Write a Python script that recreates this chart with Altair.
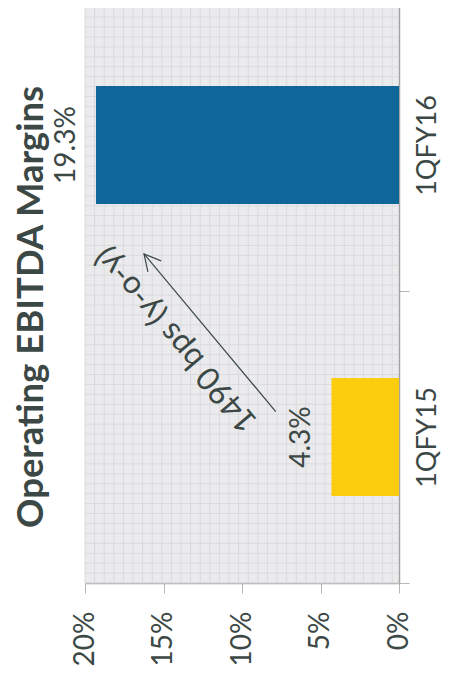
import altair as alt
import pandas as pd

# ---- data ----
quarters = ["1QFY16", "1QFY15"]
margins = [19.3, 4.3]
margin_labels = ["19.3%", "4.3%"]
bar_colors = ["#0f6699", "#fccc0f"]

value_ticks = [0, 5, 10, 15, 20]
chart_title = "Operating EBITDA Margins"

# annotation arrow: x in % margin, y in band units counted from the bottom (0..2)
arrow_x = [7.85, 16.24]
arrow_y = [0.587, 1.127]
arrow_text = ["1490 bps (y-o-y)"]
arrow_text_x = [14.2]
arrow_text_y = [0.834]

# background grid pattern (decoration): vertical lines in % units, horizontal in band units
grid_v_pos = [20 - k * 0.6115 for k in range(33)]
grid_h_pos = [k * 0.034 for k in range(59)]

TEXT = "#3b4845"
AXIS = "#a3a3a3"
GRID = "#dadbdd"
FONT = "Lato"

df = pd.DataFrame({"quarter": quarters, "margin": margins,
                   "label": margin_labels, "color": bar_colors})
df_arrow = pd.DataFrame({"margin": arrow_x, "ay": arrow_y})
df_tip = pd.DataFrame({"margin": [arrow_x[1]], "ay": [arrow_y[1]]})
df_note = pd.DataFrame({"margin": arrow_text_x, "ay": arrow_text_y, "t": arrow_text})
df_gv = pd.DataFrame({"margin": grid_v_pos})
df_gh = pd.DataFrame({"gy": grid_h_pos})

xscale = alt.Scale(domain=[0, 20], reverse=True, nice=False, zero=True)
yband = alt.Scale(paddingInner=0, paddingOuter=0)
yq = alt.Scale(domain=[0, 2], nice=False, zero=False)

AX_X = alt.Axis(values=value_ticks, labelExpr="datum.value + '%'", title=None,
                grid=False, domainColor=AXIS, domainWidth=1.5, tickColor="#b5b5b5",
                tickSize=10, labelAngle=270, labelAlign="right", labelBaseline="middle",
                labelPadding=18, labelFont=FONT, labelFontSize=28, labelColor=TEXT)
AX_Y = alt.Axis(orient="right", tickBand="extent", title=None, grid=False,
                domainColor=AXIS, domainWidth=1.5, tickColor="#b5b5b5", tickSize=10,
                labelAngle=270, labelAlign="center", labelBaseline="top",
                labelPadding=5, labelFont=FONT, labelFontSize=27, labelColor=TEXT)


def X():
    return alt.X("margin:Q", scale=xscale, axis=AX_X)


grid_v = alt.Chart(df_gv).mark_rule(color=GRID, strokeWidth=1).encode(x=X())
grid_h = alt.Chart(df_gh).mark_rule(color=GRID, strokeWidth=1).encode(
    y=alt.Y("gy:Q", scale=yq, axis=None))

bars = alt.Chart(df).mark_bar(size=118).encode(
    x=X(),
    y=alt.Y("quarter:N", sort=quarters, scale=yband, axis=AX_Y),
    color=alt.Color("color:N", scale=None),
)

labels = alt.Chart(df).mark_text(angle=270, align="center", baseline="middle", dy=-29,
                                 font=FONT, fontSize=28, color=TEXT).encode(
    x=X(),
    y=alt.Y("quarter:N", sort=quarters, scale=yband, axis=AX_Y),
    text="label:N",
)

line = alt.Chart(df_arrow).mark_line(color=TEXT, strokeWidth=1.2).encode(
    x=X(),
    y=alt.Y("ay:Q", scale=yq, axis=None),
)
head = alt.Chart(df_tip).mark_point(shape="M -0.53 1 L 0 0 L 0.53 1", size=1065, angle=320,
                                    filled=False, opacity=1, color=TEXT, strokeWidth=1.2).encode(
    x=X(),
    y=alt.Y("ay:Q", scale=yq, axis=None),
)
note = alt.Chart(df_note).mark_text(angle=229.5, align="center", baseline="middle",
                                    font=FONT, fontSize=32, color=TEXT).encode(
    x=X(),
    y=alt.Y("ay:Q", scale=yq, axis=None),
    text="t:N",
)

back = alt.layer(grid_v, grid_h)
front = alt.layer(bars, labels)
over = alt.layer(line, head, note)

chart = alt.layer(back, front, over).resolve_scale(y="independent").properties(
    width=314, height=584,
    title=alt.TitleParams(chart_title, orient="left", anchor="middle", frame="group",
                          font=FONT, fontSize=36.5, fontWeight="bold", color=TEXT,
                          offset=2, dx=-16),
    padding={"left": 77, "top": -9, "right": 44, "bottom": 90},
    autosize=alt.AutoSizeParams(type="none"),
).configure_view(fill="#ebebed", stroke=None)

chart.save("out.html", embed_options={"renderer": "svg", "actions": False})
